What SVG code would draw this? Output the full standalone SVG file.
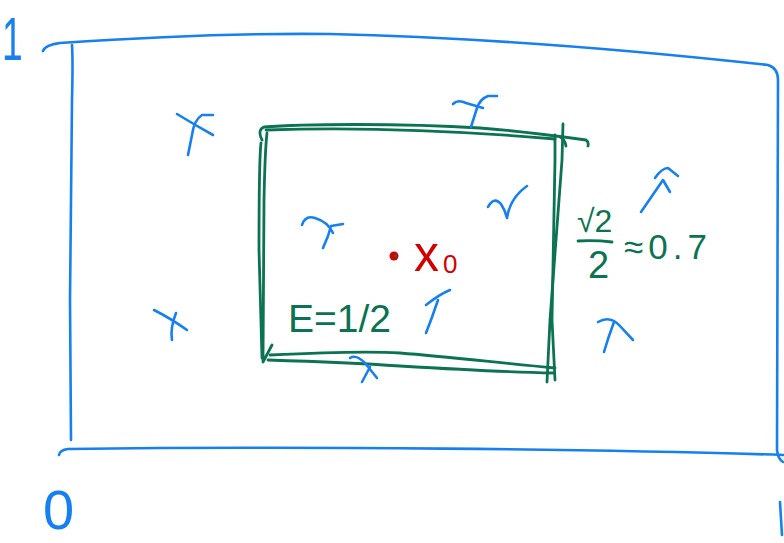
<svg xmlns="http://www.w3.org/2000/svg" width="784" height="543" viewBox="0 0 784 543">
<style>
.b{fill:none;stroke:#1680f0;stroke-width:2.6;stroke-linecap:round;stroke-linejoin:round}
.g{fill:none;stroke:#0b7352;stroke-width:2.8;stroke-linecap:round;stroke-linejoin:round}
.tb{fill:#1680f0;font-family:"Liberation Sans",Arial,sans-serif}
.tg{fill:#0b7352;font-family:"Liberation Sans",Arial,sans-serif}
.tr{fill:#d40000;font-family:"Liberation Sans",Arial,sans-serif}
</style>
<rect width="784" height="543" fill="#ffffff"/>
<g id="outer-box">
<path class="b" d="M43,51 Q45,45 60,43 C150,37 250,33 330,34 C500,38 650,52 768,65 Q778,68 778,80 L777,450 Q778,459 783,462"/>
<path class="b" d="M72,45 Q73,60 72,100 L70,300 L71,440"/>
<path class="b" d="M59,455 Q60,450 68,449 C300,446 600,449 784,455"/>
<path class="b" d="M780,502 L782,535"/>
</g>
<g id="inner-box">
<path class="g" d="M262,140 Q257,130 264,127 C300,124 400,123 480,128 C520,131 550,135 586,140 Q589,142 588,146"/>
<path class="g" d="M266,130 C350,127 450,130 555,139"/>
<path class="g" d="M267,133 Q265,150 264,200 L263,362 L272,345"/>
<path class="g" d="M261,143 Q259,160 259,250 L262,358"/>
<path class="g" d="M270,355 C330,352 370,351 400,353 C450,357 500,363 555,368"/>
<path class="g" d="M268,360 C330,362 370,364 400,366 C450,369 500,372 553,373"/>
<path class="g" d="M563,124 L562,160 L550,320 L547,382"/>
<path class="g" d="M555,135 L555,160 L552,320 L555,380"/>
<path class="g" d="M560,137 Q565,139 566,146"/>
</g>
<g id="points">
<path class="b" d="M177,114 Q195,125 213,135 M213,115 L202,115 Q194,120 192,135 L188,155"/>
<path class="b" d="M453,104 Q458,99 466,103 L483,108 M497,96 L488,96 Q480,99 477,108 L471,127"/>
<path class="b" d="M302,225 Q305,215 315,218 Q328,222 333,233 M343,224 L331,226 L328,236 L323,248"/>
<path class="b" d="M488,207 Q494,196 501,204 Q505,210 507,218 M507,218 Q510,198 527,186"/>
<path class="b" d="M641,212 Q652,196 663,180 L670,192 M655,178 Q662,168 668,168 L678,176"/>
<path class="b" d="M154,310 Q170,318 187,330 M176,313 Q170,328 172,340"/>
<path class="b" d="M426,305 Q440,294 450,290 M438,300 Q432,318 426,333"/>
<path class="b" d="M350,358 Q356,354 365,363 L377,378 M370,367 L362,382"/>
<path class="b" d="M598,322 Q610,315 620,326 L633,340 M614,322 Q608,338 604,352"/>
</g>
<g id="center">
<circle cx="394" cy="256" r="4.5" fill="#d40000"/>
<circle cx="395.5" cy="256" r="1.4" fill="#0b7352"/>
<text class="tr" x="414" y="271" font-size="50">x<tspan x="443" y="273" font-size="26">0</tspan></text>
</g>
<g id="labels">
<text class="tg" x="288" y="332" font-size="39">E=1/2</text>
<text class="tg" x="577" y="232" font-size="32">√2</text>
<path class="g" d="M578,241 Q595,240 612,242"/>
<text class="tg" x="588" y="278" font-size="38">2</text>
<text class="tg" x="624" y="259" font-size="35" letter-spacing="5">≈0.7</text>
<text class="tb" transform="translate(2,60) scale(0.6,1)" font-size="62">1</text>
<text class="tb" x="43" y="529" font-size="56">0</text>
</g>
</svg>
